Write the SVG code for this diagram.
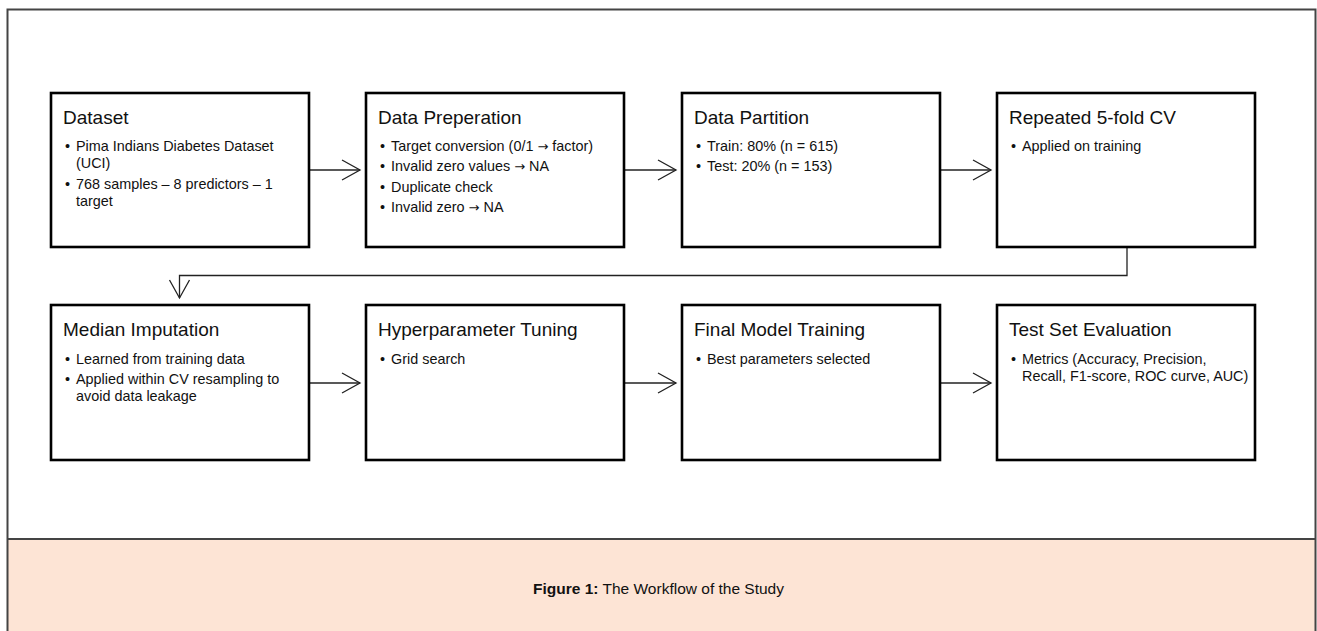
<svg xmlns="http://www.w3.org/2000/svg" width="1317" height="631" viewBox="0 0 1317 631">
<defs>
<marker id="chev" markerUnits="userSpaceOnUse" markerWidth="22" markerHeight="24" refX="19" refY="11" orient="auto" viewBox="0 0 22 24">
<path d="M1,1 L19,11 L1,21" fill="none" stroke="#222" stroke-width="1.3"/>
</marker>
<style>
.box{fill:#fff;stroke:#000;stroke-width:2.6}
.title{font-family:"Liberation Sans",Arial,sans-serif;font-size:19px;fill:#111}
.txt{font-family:"Liberation Sans",Arial,sans-serif;font-size:14.4px;fill:#111}
.arr{font-family:"DejaVu Sans",sans-serif;font-size:13px}
.con{fill:none;stroke:#222;stroke-width:1.3}
.cap{font-family:"Liberation Sans",Arial,sans-serif;font-size:15.5px;fill:#111}
</style>
</defs>
<rect x="0" y="0" width="1317" height="631" fill="#fff"/>
<g id="frame">
<rect x="7.5" y="539" width="1308" height="100" fill="#fde4d5"/>
<rect x="7.5" y="9.5" width="1308" height="640" fill="none" stroke="#444" stroke-width="2"/>
<line x1="7.5" y1="539" x2="1315.5" y2="539" stroke="#444" stroke-width="2"/>
</g>
<g id="connectors">
<line class="con" x1="309" y1="170" x2="360" y2="170" marker-end="url(#chev)"/>
<line class="con" x1="624" y1="170" x2="676" y2="170" marker-end="url(#chev)"/>
<line class="con" x1="940" y1="170" x2="991" y2="170" marker-end="url(#chev)"/>
<polyline class="con" points="1127,247 1127,275.5 179.5,275.5 179.5,298" marker-end="url(#chev)"/>
<line class="con" x1="309" y1="383" x2="360" y2="383" marker-end="url(#chev)"/>
<line class="con" x1="624" y1="383" x2="676" y2="383" marker-end="url(#chev)"/>
<line class="con" x1="940" y1="383" x2="991" y2="383" marker-end="url(#chev)"/>
</g>
<g id="dataset">
<rect class="box" x="51" y="93" width="258" height="154"/>
<text class="title" x="63" y="124">Dataset</text>
<text class="txt" x="65" y="151">•</text>
<text class="txt" x="76" y="151">Pima Indians Diabetes Dataset</text>
<text class="txt" x="76" y="168">(UCI)</text>
<text class="txt" x="65" y="189">•</text>
<text class="txt" x="76" y="189">768 samples – 8 predictors – 1</text>
<text class="txt" x="76" y="206">target</text>
</g>
<g id="data-preparation">
<rect class="box" x="366" y="93" width="258" height="154"/>
<text class="title" x="378" y="124">Data Preperation</text>
<text class="txt" x="380" y="151">•</text>
<text class="txt" x="391" y="151">Target conversion (0/1 <tspan class="arr">→</tspan> factor)</text>
<text class="txt" x="380" y="171">•</text>
<text class="txt" x="391" y="171">Invalid zero values <tspan class="arr">→</tspan> NA</text>
<text class="txt" x="380" y="191.5">•</text>
<text class="txt" x="391" y="191.5">Duplicate check</text>
<text class="txt" x="380" y="212">•</text>
<text class="txt" x="391" y="212">Invalid zero <tspan class="arr">→</tspan> NA</text>
</g>
<g id="data-partition">
<rect class="box" x="682" y="93" width="258" height="154"/>
<text class="title" x="694" y="124">Data Partition</text>
<text class="txt" x="696" y="151">•</text>
<text class="txt" x="707" y="151">Train: 80% (n = 615)</text>
<text class="txt" x="696" y="171">•</text>
<text class="txt" x="707" y="171">Test: 20% (n = 153)</text>
</g>
<g id="repeated-cv">
<rect class="box" x="997" y="93" width="258" height="154"/>
<text class="title" x="1009" y="124">Repeated 5-fold CV</text>
<text class="txt" x="1011" y="151">•</text>
<text class="txt" x="1022" y="151">Applied on training</text>
</g>
<g id="median-imputation">
<rect class="box" x="51" y="305" width="258" height="155"/>
<text class="title" x="63" y="336">Median Imputation</text>
<text class="txt" x="65" y="363.5">•</text>
<text class="txt" x="76" y="363.5">Learned from training data</text>
<text class="txt" x="65" y="383.5">•</text>
<text class="txt" x="76" y="383.5">Applied within CV resampling to</text>
<text class="txt" x="76" y="401">avoid data leakage</text>
</g>
<g id="hyperparameter-tuning">
<rect class="box" x="366" y="305" width="258" height="155"/>
<text class="title" x="378" y="336">Hyperparameter Tuning</text>
<text class="txt" x="380" y="363.5">•</text>
<text class="txt" x="391" y="363.5">Grid search</text>
</g>
<g id="final-model-training">
<rect class="box" x="682" y="305" width="258" height="155"/>
<text class="title" x="694" y="336">Final Model Training</text>
<text class="txt" x="696" y="363.5">•</text>
<text class="txt" x="707" y="363.5">Best parameters selected</text>
</g>
<g id="test-set-evaluation">
<rect class="box" x="997" y="305" width="258" height="155"/>
<text class="title" x="1009" y="336">Test Set Evaluation</text>
<text class="txt" x="1011" y="363.5">•</text>
<text class="txt" x="1022" y="363.5">Metrics (Accuracy, Precision,</text>
<text class="txt" x="1022" y="380.5">Recall, F1-score, ROC curve, AUC)</text>
</g>
<g id="caption">
<text class="cap" x="658.5" y="594" text-anchor="middle"><tspan font-weight="bold">Figure 1:</tspan> The Workflow of the Study</text>
</g>
</svg>
